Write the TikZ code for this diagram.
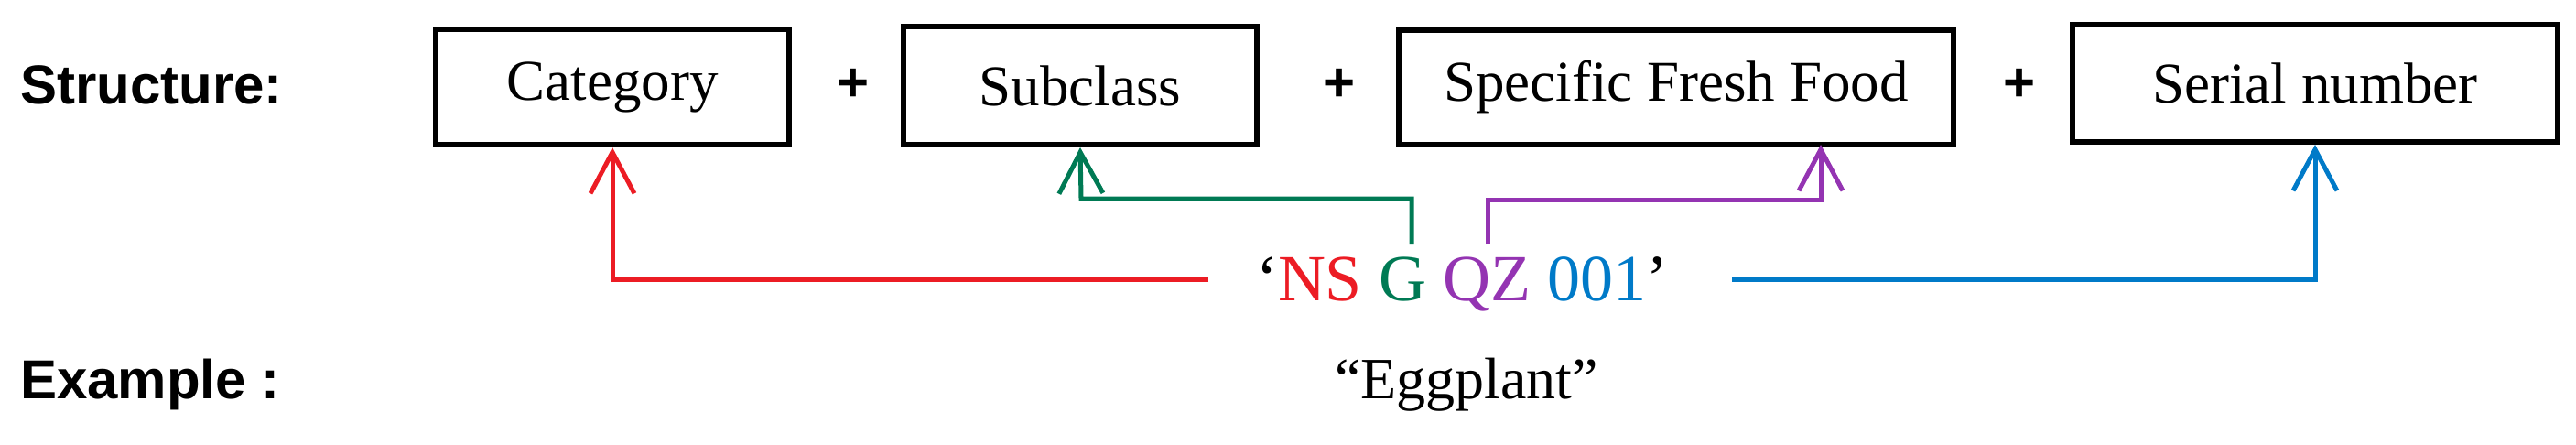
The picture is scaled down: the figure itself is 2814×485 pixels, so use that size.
\documentclass[tikz,border=0pt]{standalone}
\usepackage{fontspec}
\setmainfont{Liberation Serif}
\newfontfamily\lsans{Liberation Sans}
\usetikzlibrary{arrows.meta}
\definecolor{cred}{RGB}{236,28,36}
\definecolor{cgreen}{RGB}{0,122,84}
\definecolor{cpurple}{RGB}{148,52,178}
\definecolor{cblue}{RGB}{0,122,200}
\begin{document}
\begin{tikzpicture}[x=1pt,y=-1pt,
  box/.style={draw,line width=6pt,inner sep=0pt,font=\fontsize{63}{70}\selectfont},
  lbl/.style={font=\lsans\bfseries\fontsize{60}{66}\selectfont,anchor=west,inner sep=0pt},
  plus/.style={font=\lsans\bfseries\fontsize{60}{66}\selectfont,inner sep=0pt},
  conn/.style={line width=5pt,-{Straight Barb[length=45pt,width=48pt,line width=5pt]}}]
\useasboundingbox (0,0) rectangle (2814,485);
\node[lbl] (st) at (22,93) {Structure:};
\node[lbl] (ex) at (22,420) {Example :};
\node[box,minimum width=386pt,minimum height=126pt] (cat) at (669,95) {Category};
\node[box,minimum width=386pt,minimum height=129pt] (sub) at (1180,93.5) {Subclass};
\node[box,minimum width=606pt,minimum height=125pt] (sff) at (1831,95.5) {Specific Fresh Food};
\node[box,minimum width=530pt,minimum height=128pt] (ser) at (2529,91) {Serial number};
\node[plus] (p1) at (932,93) {+};
\node[plus] (p2) at (1463,93) {+};
\node[plus] (p3) at (2206,93) {+};
\node[inner sep=0pt,font=\fontsize{72}{80}\selectfont] (code) at (1597,310)
  {‘\textcolor{cred}{NS} \textcolor{cgreen}{G} \textcolor{cpurple}{QZ} \textcolor{cblue}{001}’};
\node[inner sep=0pt,font=\fontsize{64}{70}\selectfont] (egg) at (1602,420) {“Eggplant”};
\coordinate (rs) at (1320,305);
\coordinate (gs) at (1542,267);
\coordinate (ps) at (1625,267);
\coordinate (bs) at (1892,305);
\draw[conn,cred] (rs) -- (669,305) -- (cat.south);
\draw[conn,cgreen] (gs) -- (1542,217) -- (1181,217) -- (sub.south);
\draw[conn,cpurple] (ps) -- (1625,218) -- (1989,218) -- (1989,158);
\draw[conn,cblue] (bs) -- (2529,305) -- (ser.south);
\end{tikzpicture}
\end{document}
